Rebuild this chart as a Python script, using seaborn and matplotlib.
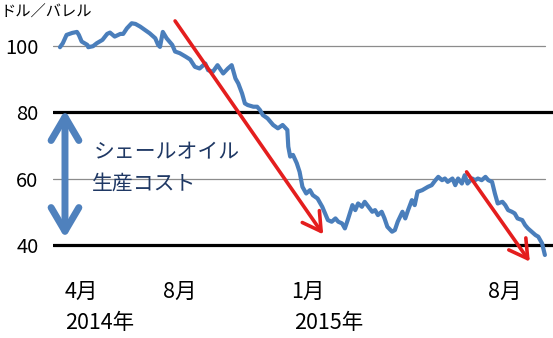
import matplotlib
matplotlib.use("Agg")
import matplotlib.pyplot as plt
import seaborn as sns
import pandas as pd

# days since 2014-04-01 and WTI price (USD / barrel)
days = [0, 3, 7, 13, 18, 20, 23, 29, 30, 35, 39, 45, 50, 53, 58, 64, 67, 71, 76, 80,
        85, 90, 95, 101, 104, 106, 109, 113, 119, 122, 127, 133, 138, 143, 148, 154, 157,
        162, 167, 173, 178, 182, 186, 189, 193, 196, 199, 205, 209, 212, 215, 220, 226,
        231, 236, 241, 242, 244, 247, 251, 254, 257, 261, 265, 268, 273, 278, 281, 284,
        288, 292, 295, 299, 302, 305, 310, 313, 316, 320, 323, 327, 331, 334, 337, 341,
        344, 347, 352, 355, 358, 363, 366, 369, 373, 376, 379, 384, 387, 390, 394, 398,
        401, 405, 408, 411, 416, 419, 422, 426, 429, 432, 437, 440, 443, 447, 451, 454,
        458, 461, 464, 469, 472, 475, 479, 482, 485, 490, 493, 496, 500, 504, 507, 511, 514]
price = [99.5, 100.7, 103.2, 103.8, 104.1, 103.2, 101.2, 100.2, 99.5, 99.8, 100.7, 101.7,
         103.5, 103.9, 102.7, 103.5, 103.5, 105.2, 106.7, 106.5, 105.7, 104.7, 103.7, 102.2,
         100.2, 99.6, 104.1, 102.2, 100.2, 98.2, 97.7, 96.7, 95.8, 93.6, 93.1, 94.6, 92.6,
         92.1, 94.1, 91.6, 93.1, 94.1, 90.1, 88.6, 85.6, 82.6, 82.1, 81.6, 81.6, 80.6, 79.1,
         78.1, 76.1, 75.1, 76.1, 74.6, 69.6, 66.6, 67.1, 64.6, 62.0, 57.5, 55.5, 56.5, 55.0,
         54.0, 51.5, 49.5, 47.5, 47.0, 48.0, 47.0, 46.5, 45.0, 47.5, 52.0, 50.5, 52.5, 51.5,
         53.0, 51.5, 50.0, 50.5, 49.0, 50.0, 48.0, 45.5, 44.0, 44.5, 47.0, 50.0, 48.0, 50.5,
         53.5, 52.0, 56.0, 56.5, 57.0, 57.5, 58.0, 59.5, 60.5, 59.5, 60.0, 59.0, 60.0, 58.0,
         60.0, 58.5, 61.0, 58.5, 60.0, 59.5, 60.0, 59.5, 60.5, 59.5, 59.0, 55.5, 52.5, 53.0,
         52.0, 50.5, 50.0, 49.5, 48.0, 47.5, 46.0, 45.0, 44.0, 43.0, 42.5, 40.5, 37.0]

y_ticks = [40, 60, 80, 100]
grey_levels = [60, 100]
black_levels = [40, 80]
month_labels = ["4月", "8月", "1月", "8月"]
month_pos = [5, 109, 245, 454]
year_labels = ["2014年", "2015年"]
year_pos = [5, 248]
unit_label = "ドル／バレル"
cost_label = ["シェールオイル", "生産コスト"]

df = pd.DataFrame({"day": days, "price": price})

sns.set_theme(style="white")
plt.rcParams["font.family"] = ["Noto Sans CJK JP", "DejaVu Sans"]

fig = plt.figure(figsize=(5.53, 3.38), dpi=100)
ax = fig.add_axes([53 / 553, 0, 500 / 553, 1])
ax.set_xlim(-7.4, 522.6)
ax.set_ylim(12.03, 113.7)

for lv in grey_levels:
    ax.axhline(lv, xmin=0, xmax=0.984, color="#8c8c8c", lw=0.9, zorder=1)
for lv in black_levels:
    ax.axhline(lv, xmin=0, xmax=1, color="black", lw=2.3, zorder=1)

sns.lineplot(data=df, x="day", y="price", ax=ax, color="#4A7EBB", linewidth=3.0, zorder=3)

# red trend arrows
red_style = "->,head_length=1.3,head_width=0.75"
ax.annotate("", xy=(279, 43.2), xytext=(122, 107.4),
            arrowprops=dict(arrowstyle=red_style, color="#E41E1E",
                            lw=2.6, mutation_scale=10, shrinkA=0, shrinkB=0), zorder=4)
ax.annotate("", xy=(498, 35.0), xytext=(431, 62.0),
            arrowprops=dict(arrowstyle=red_style, color="#E41E1E",
                            lw=2.6, mutation_scale=10, shrinkA=0, shrinkB=0), zorder=4)

# blue double arrow (production cost range)
ax.annotate("", xy=(5.3, 80.6), xytext=(5.3, 42.1),
            arrowprops=dict(arrowstyle="<->,head_length=0.85,head_width=0.5", color="#4F81BD",
                            lw=5, mutation_scale=20, shrinkA=0, shrinkB=0), zorder=4)

ax.text(36, 68.0, cost_label[0], fontsize=15, color="#1F3864", va="center", ha="left")
ax.text(34, 58.6, cost_label[1], fontsize=15, color="#1F3864", va="center", ha="left")

for lab, p in zip(month_labels, month_pos):
    ax.text(p, 25.9, lab, fontsize=15.5, color="black", va="center", ha="left")
for lab, p in zip(year_labels, year_pos):
    ax.text(p, 16.5, lab, fontsize=15.5, color="black", va="center", ha="left")

ax.set_yticks(y_ticks)
ax.set_yticklabels([str(t) for t in y_ticks], fontsize=14.5, color="black")
ax.tick_params(axis="y", length=0, pad=10.5)
ax.set_xticks([])
ax.set_xlabel("")
ax.set_ylabel("")
ax.grid(False)
sns.despine(ax=ax, left=True, bottom=True)
ax.patch.set_alpha(0)

fig.text(0.0, 1 - 12 / 338, unit_label, fontsize=11, va="center", ha="left", color="black")

fig.savefig("out.png", dpi=100)
